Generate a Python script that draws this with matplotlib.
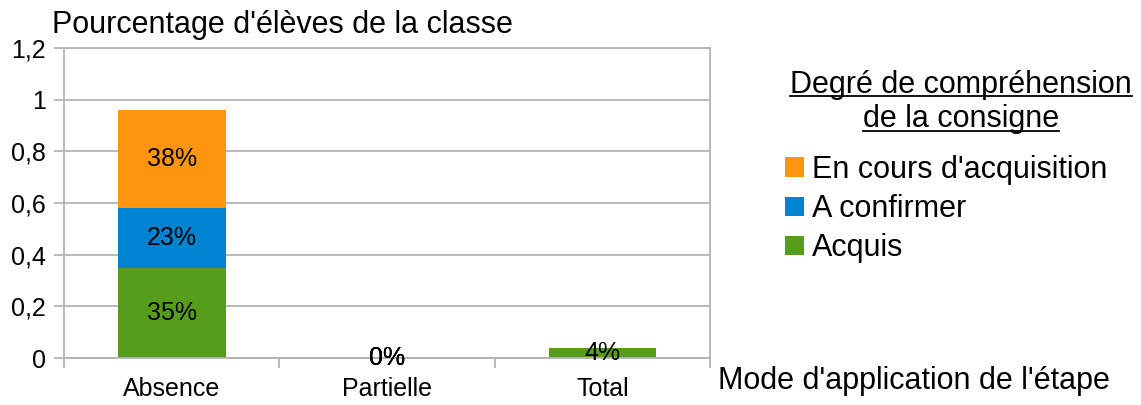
import matplotlib
matplotlib.use("Agg")
import matplotlib.pyplot as plt
import numpy as np
from matplotlib.patches import Patch
from matplotlib.lines import Line2D

plt.rcParams['font.family'] = ['Liberation Sans', 'DejaVu Sans']

# data (shares of the class)
categories = ["Absence", "Partielle", "Total"]
acquis = [0.35, 0.0, 0.04]
a_confirmer = [0.23, 0.0, np.nan]
en_cours = [0.38, 0.0, np.nan]
series_names = ["Acquis", "A confirmer", "En cours d'acquisition"]
y_ticks = [0, 0.2, 0.4, 0.6, 0.8, 1.0, 1.2]
y_tick_labels = ["0", "0,2", "0,4", "0,6", "0,8", "1", "1,2"]

colors = ["#579d1c", "#0084d1", "#ff950e"]
grid_col = "#b3b3b3"

W, H = 1141, 405
fig = plt.figure(figsize=(W / 100, H / 100), dpi=100)
ax = fig.add_axes([64 / W, 1 - 358 / H, (710 - 64) / W, (358 - 48) / H])

x = np.arange(len(categories))
bottom = np.zeros(len(categories))
handles = []
for vals, name, col in zip([acquis, a_confirmer, en_cours], series_names, colors):
    vals = np.array(vals, dtype=float)
    bars = ax.bar(x, np.nan_to_num(vals), 0.5, bottom=bottom, color=col, zorder=2)
    labels = ["" if np.isnan(v) else f"{v * 100:.0f}%" for v in vals]
    ax.bar_label(bars, labels=labels, label_type="center", fontsize=18, color="black")
    bottom = bottom + np.nan_to_num(vals)
    handles.append(Patch(facecolor=col, label=name))

ax.set_xlim(-0.5, 2.5)
ax.set_ylim(0, 1.2)
ax.set_yticks(y_ticks)
ax.set_yticklabels(y_tick_labels, fontsize=18)
ax.yaxis.grid(True, color=grid_col, linewidth=1.3, zorder=0)
ax.tick_params(axis="y", length=7, width=1.3, color=grid_col, pad=6)

ax.set_xticks(x)
ax.set_xticklabels(categories, fontsize=18)
ax.set_xticks([-0.5, 0.5, 1.5, 2.5], minor=True)
ax.tick_params(axis="x", which="major", length=0, pad=14)
ax.tick_params(axis="x", which="minor", length=7, width=1.3, color=grid_col)
for s in ax.spines.values():
    s.set_color(grid_col)
    s.set_linewidth(1.3)
ax.set_axisbelow(True)

fig.text(52 / W, 1 - 33 / H, "Pourcentage d'élèves de la classe", fontsize=22,
         ha="left", va="baseline")
fig.text(718 / W, 1 - 389 / H, "Mode d'application de l'étape", fontsize=22,
         ha="left", va="baseline")

# legend title, underlined by hand
t1 = fig.text(961 / W, 1 - 93 / H, "Degré de compréhension", fontsize=22,
              ha="center", va="baseline")
t2 = fig.text(961 / W, 1 - 127 / H, "de la consigne", fontsize=22,
              ha="center", va="baseline")

leg = fig.legend(handles=handles[::-1], loc="upper left",
                 bbox_to_anchor=(785 / W, 1 - 155 / H), frameon=False,
                 fontsize=22, handlelength=0.62, handleheight=0.62,
                 handletextpad=0.25, labelspacing=0.3, borderpad=0,
                 borderaxespad=0)

fig.canvas.draw()
r = fig.canvas.get_renderer()
for t, y_px in [(t1, 96), (t2, 131)]:
    bb = t.get_window_extent(r)
    fig.add_artist(Line2D([bb.x0 / W, bb.x1 / W], [1 - y_px / H, 1 - y_px / H],
                          transform=fig.transFigure, color="black", linewidth=1.3))

fig.savefig("out.png", dpi=100)
